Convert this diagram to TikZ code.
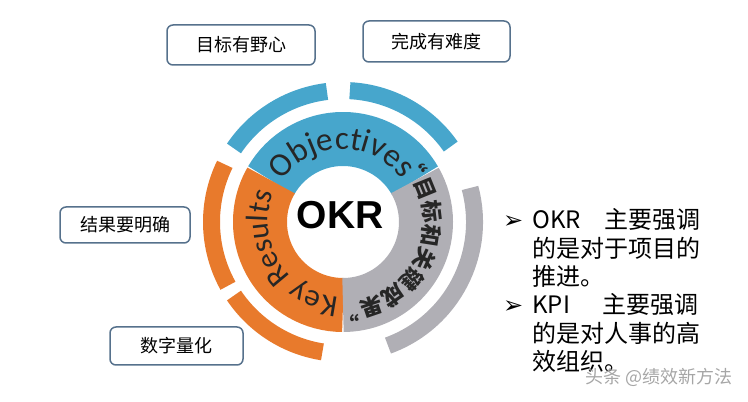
\documentclass[tikz,border=0pt]{standalone}
\usepackage{fontspec}
\setmainfont{Liberation Sans}
\newfontfamily\cjkfont{Noto Sans CJK SC}
\newfontfamily\ringfont{Carlito}
\newfontfamily\symfont{DejaVu Sans}
\usetikzlibrary{positioning,decorations.text}

\definecolor{okrblue}{HTML}{47A6CC}
\definecolor{okrorange}{HTML}{E87A2C}
\definecolor{okrgrey}{HTML}{B0AFB5}
\definecolor{boxedge}{HTML}{56718C}

\begin{document}
\begin{tikzpicture}
	[x=1pt, y=1pt,
	 ring/.style = {line width=54pt},
	 halo/.style = {line width=17pt},
	 goal/.style = {draw=boxedge, line width=1.5pt, rounded corners=6pt, fill=white,
	                font=\cjkfont\fontsize{18}{18}\selectfont, inner sep=0pt},
	 curved/.style = {decorate, decoration={text along path, text align=center,
	                  text color=black!85, text={#1}}}]
\useasboundingbox (0,0) rectangle (748,402);
\coordinate (c) at (343,180);

% inner ring, three parts
\draw[ring, okrblue]   (c) ++(30:83pt)  arc[start angle=30,  end angle=150, radius=83pt];
\draw[ring, okrorange] (c) ++(150:83pt) arc[start angle=150, end angle=270, radius=83pt];
\draw[ring, okrgrey]   (c) ++(270:83pt) arc[start angle=270, end angle=390, radius=83pt];

% outer arcs
\foreach \col/\a/\b in {okrblue/97/146, okrblue/35/87, okrorange/154/209,
                        okrorange/214/261, okrgrey/15/-70}
	\draw[halo, \col] (c) ++(\a:131.5pt) arc[start angle=\a, end angle=\b, radius=131.5pt];

% words along the ring
\path[curved={|\ringfont\fontsize{33}{33}\selectfont|Objectives}]
	(c) ++(158:73pt) arc[start angle=158, end angle=24, radius=73pt];
\path[curved={|\ringfont\fontsize{31}{31}\selectfont|Key Results}]
	(c) ++(275:75pt) arc[start angle=275, end angle=149, radius=75pt];
\path[curved={|\cjkfont\bfseries\fontsize{22}{22}\selectfont|“目标和关键成果”}]
	(c) ++(57:81pt) arc[start angle=57, end angle=-106, radius=81pt];

\node (okr) at (340,187) [font=\fontsize{39}{39}\selectfont\bfseries] {OKR};

\node (ambitious) at (241,357) [goal, minimum width=148pt, minimum height=40pt] {目标有野心};
\node (hard) at (436.5,360.5) [goal, minimum width=147pt, minimum height=41pt] {完成有难度};
\node (clear) at (125,177) [goal, minimum width=130pt, minimum height=36pt] {结果要明确};
\node (numbers) at (176.5,56) [goal, minimum width=133pt, minimum height=38pt] {数字量化};

\node (compare) [anchor=base west, inner sep=0pt, font=\cjkfont\fontsize{24}{27}\selectfont]
	at (503,173) {%
	\begin{tabular}[t]{@{}l@{\hspace{9pt}}l@{}}
	{\symfont\fontsize{24}{27}\selectfont ➢} & \makebox[72pt][l]{OKR}主要强调\\
	& 的是对于项目的\\
	& 推进。\\
	{\symfont\fontsize{24}{27}\selectfont ➢} & \makebox[70pt][l]{KPI}主要强调\\
	& 的是对人事的高\\
	& 效组织。
	\end{tabular}};

\node (mark) [anchor=base west, inner sep=0pt, text=gray!70,
	font=\cjkfont\fontsize{18}{18}\selectfont] at (585,18) {头条 @绩效新方法};

\end{tikzpicture}
\end{document}
